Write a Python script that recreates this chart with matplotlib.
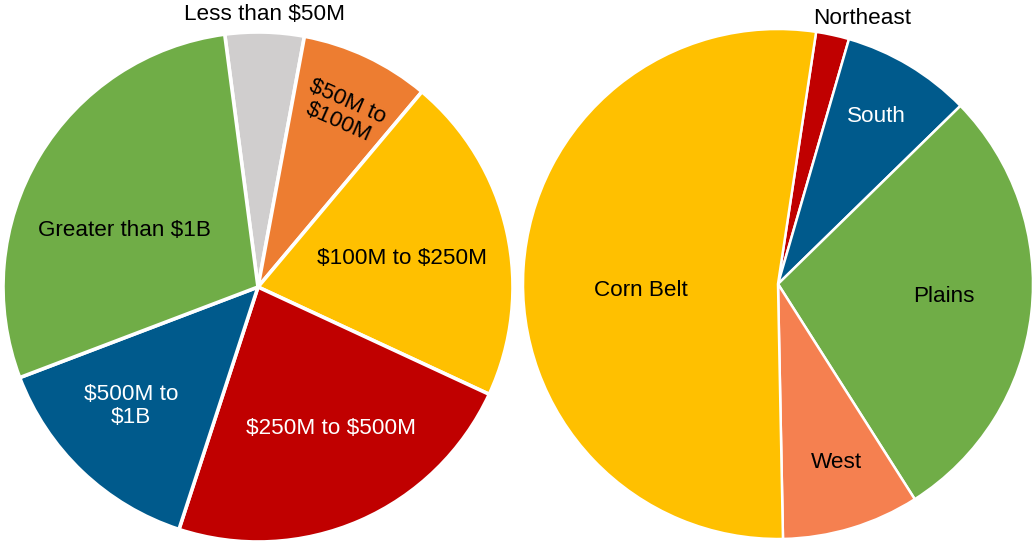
import matplotlib.pyplot as plt

plt.rcParams['font.family'] = ['Liberation Sans', 'DejaVu Sans']
plt.rcParams['text.parse_math'] = False

# Share by size class
size_labels = ["Less than $50M", "$50M to\n$100M", "$100M to $250M",
               "$250M to $500M", "$500M to\n$1B", "Greater than $1B"]
size_values = [5.0, 8.2, 20.8, 23.1, 14.2, 28.7]
size_colors = ["#D0CECE", "#ED7D31", "#FFC000", "#C00000", "#005A8C", "#70AD47"]
size_text_colors = ["black", "black", "black", "white", "white", "black"]

# Share by region
region_labels = ["Northeast", "South", "Plains", "West", "Corn Belt"]
region_values = [2.1, 8.2, 28.3, 8.7, 52.7]
region_colors = ["#C00000", "#005A8C", "#70AD47", "#F58050", "#FFC000"]
region_text_colors = ["black", "white", "black", "black", "black"]

W, H = 1034, 541
fig = plt.figure(figsize=(W / 100, H / 100), dpi=100)
ax = fig.add_axes([0, 0, 1, 1])

# pixel-space layout: y measured from the top
left_c, left_r = (258, 287), 255
right_c, right_r = (778, 284), 255

ax.pie(size_values, colors=size_colors, startangle=97.5, counterclock=False,
       center=(left_c[0], H - left_c[1]), radius=left_r,
       wedgeprops=dict(edgecolor="white", linewidth=2.6))
ax.pie(region_values, colors=region_colors, startangle=81.4, counterclock=False,
       center=(right_c[0], H - right_c[1]), radius=right_r,
       wedgeprops=dict(edgecolor="white", linewidth=1.8))

size_pos = [(265, 15), (343, 112), (402, 258), (331, 428), (131, 406), (124, 231)]
size_rot = [0, -24, 0, 0, 0, 0]
for lab, (x, y), c, rot in zip(size_labels, size_pos, size_text_colors, size_rot):
    ax.text(x, H - y, lab, ha="center", va="center", color=c, fontsize=16.2,
            rotation=rot, linespacing=1.15, rotation_mode="anchor")

region_pos = [(862, 18), (876, 117), (944, 296), (836, 463), (641, 290)]
for lab, (x, y), c in zip(region_labels, region_pos, region_text_colors):
    ax.text(x, H - y, lab, ha="center", va="center", color=c, fontsize=16.2)

ax.set_xlim(0, W)
ax.set_ylim(0, H)
ax.set_aspect("equal")
ax.axis("off")

fig.savefig("out.png", dpi=100)
